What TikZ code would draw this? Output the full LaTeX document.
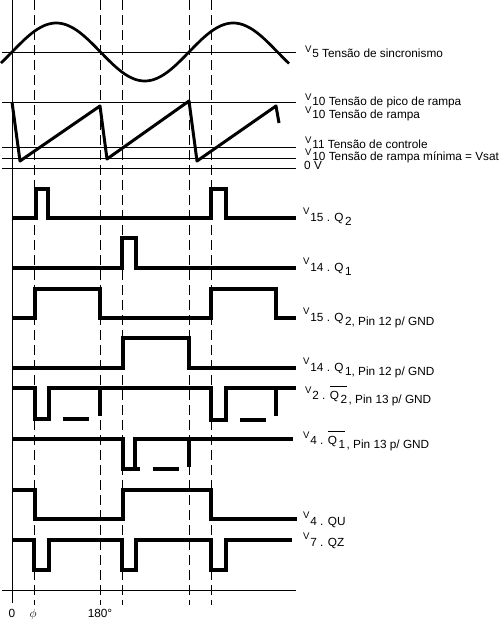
\documentclass[tikz,border=0pt]{standalone}
\usepackage{fontspec}
\setmainfont{Liberation Sans}
\tikzset{
  sinal/.style={line width=3.2pt},
  rampa/.style={line width=3pt, line join=round},
  guia/.style={line width=0.9pt},
  marca/.style={line width=0.9pt, dash pattern=on 10pt off 5pt},
  rotulo/.style={anchor=base west, inner sep=0pt, font=\fontsize{11.8}{13}\selectfont},
  eixo/.style={anchor=base, inner sep=0pt, font=\fontsize{11.8}{13}\selectfont}
}
\newcommand{\Vup}[1][5pt]{\raisebox{#1}{\fontsize{9.6}{10}\selectfont V}\kern0.8pt}
\newcommand{\low}[1]{\kern1.5pt\raisebox{-4pt}{#1}}
\newcommand{\barQ}[1]{$\overline{\hbox{\rule{0pt}{11pt}Q\low{#1}}}$}
\begin{document}
\begin{tikzpicture}[x=1pt,y=-1pt]
\useasboundingbox (0,0) rectangle (501,622);
% eixo vertical e marcas de fase
\draw[guia] (12,0) -- (12,603);
\foreach \xm in {34,100,122,189,211}
  \draw[marca] (\xm,0) -- (\xm,605);
% linhas de referencia
\foreach \yr in {52,102,147,158,168,590}
  \draw[guia] (2,\yr) -- (296,\yr);

% tensao de sincronismo
\draw[line width=2.7pt, domain=1:289, samples=120, smooth]
  plot (\x,{52-29*sin((\x-12)*2.0339)});
% rampa
\draw[rampa] (12,102) -- (20,161) -- (100,106) -- (107,159) -- (189,101)
  -- (197,161) -- (276,106) -- (279,123);

% V15 . Q2
\draw[sinal] (12,218) -- (36,218) -- (36,189) -- (48,189) -- (48,218) -- (211,218)
  -- (211,189) -- (226,189) -- (226,218) -- (296,218);
% V14 . Q1
\draw[sinal] (12,268) -- (122,268) -- (122,238) -- (136,238) -- (136,268) -- (296,268);
% V15 . Q2, pino 12
\draw[sinal] (12,318) -- (35,318) -- (35,289) -- (100,289) -- (100,318) -- (211,318)
  -- (211,289) -- (276,289) -- (276,318) -- (296,318);
% V14 . Q1, pino 12
\draw[sinal] (12,368) -- (123,368) -- (123,338) -- (189,338) -- (189,368) -- (296,368);
% V2 . /Q2, pino 13
\draw[sinal] (12,388) -- (35,388) -- (35,419) -- (51,419);
\draw[sinal] (49,419) -- (49,388) -- (211,388) -- (211,420) -- (228,420);
\draw[sinal] (226,420) -- (226,388) -- (296,388);
\draw[sinal] (63,419) -- (89,419);
\draw[sinal] (100,388) -- (100,416);
\draw[sinal] (240,420) -- (266,420);
\draw[sinal] (276,388) -- (276,416);
% V4 . /Q1, pino 13
\draw[sinal] (12,439) -- (123,439) -- (123,469) -- (140,469);
\draw[sinal] (135,469) -- (135,439) -- (293,439);
\draw[sinal] (153,469) -- (179,469);
\draw[sinal] (189,439) -- (189,467);
% V4 . QU
\draw[sinal] (12,490) -- (35,490) -- (35,519) -- (123,519) -- (123,490) -- (211,490)
  -- (211,519) -- (297,519);
% V7 . QZ
\draw[sinal] (12,540) -- (34,540) -- (34,570) -- (49,570) -- (49,540) -- (122,540)
  -- (122,570) -- (136,570) -- (136,540) -- (211,540) -- (211,570) -- (226,570)
  -- (226,540) -- (292,540);

% rotulos
\node[rotulo] (tSinc) at (305,57) {\Vup5 Tensão de sincronismo};
\node[rotulo] (tPico) at (305,105) {\Vup10 Tensão de pico de rampa};
\node[rotulo] (tRampa) at (305,118) {\Vup10 Tensão de rampa};
\node[rotulo] (tCtrl) at (305,148) {\Vup11 Tensão de controle};
\node[rotulo] (tMin) at (305,160) {\Vup10 Tensão de rampa mínima = Vsat};
\node[rotulo] (tZero) at (304,169) {0 V};
\node[rotulo] (tQa) at (303,221) {\Vup[7pt]15 . Q\low{2}};
\node[rotulo] (tQb) at (303,271) {\Vup[7pt]14 . Q\low{1}};
\node[rotulo] (tQc) at (303,321) {\Vup[7pt]15 . Q\low{2, Pin 12 p/ GND}};
\node[rotulo] (tQd) at (303,371) {\Vup[7pt]14 . Q\low{1, Pin 12 p/ GND}};
\node[rotulo] (tQe) at (305,399) {\Vup[6pt]2 . \barQ{2}\low{, Pin 13 p/ GND}};
\node[rotulo] (tQf) at (303,444) {\Vup[6pt]4 . \barQ{1}\low{, Pin 13 p/ GND}};
\node[rotulo] (tQU) at (303,525) {\Vup[7pt]4 . QU};
\node[rotulo] (tQZ) at (303,546) {\Vup[7pt]7 . QZ};
% angulos
\node[eixo] (a0) at (12,617) {0};
\node[eixo] (aPhi) at (33,617) {\fontsize{13}{13}\selectfont$\phi$};
\node[eixo] (a180) at (100,617) {180°};
\end{tikzpicture}
\end{document}
